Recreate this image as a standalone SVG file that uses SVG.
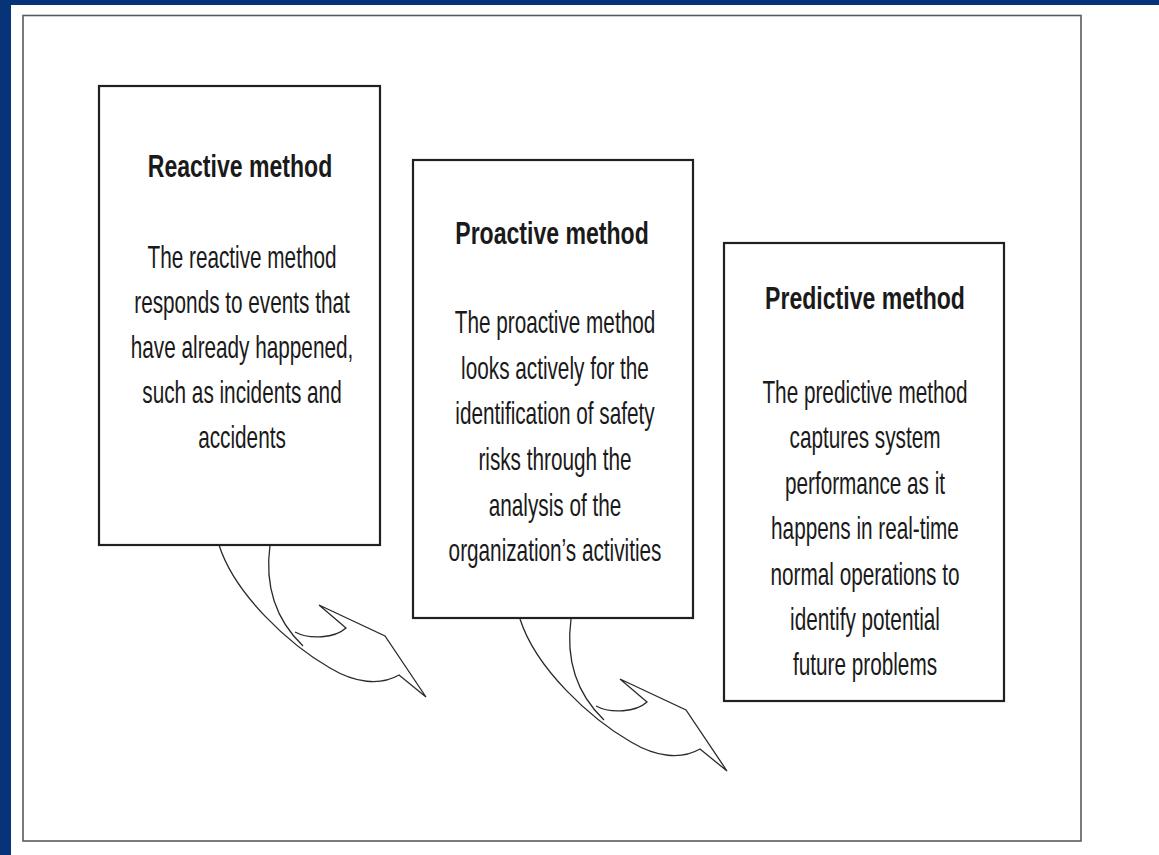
<svg xmlns="http://www.w3.org/2000/svg" width="1159" height="855" viewBox="0 0 1159 855">
<style>
.box{fill:#fff;stroke:#231f20;stroke-width:2.2}
.arrow{fill:none;stroke:#2a2a2a;stroke-width:1.3;stroke-linejoin:miter}
.h{font-family:"Liberation Sans",Arial,sans-serif;font-size:31px;font-weight:bold;fill:#1a1a1a;text-anchor:middle}
.b{font-family:"Liberation Sans",Arial,sans-serif;font-size:32px;fill:#1a1a1a;text-anchor:middle}
</style>
<defs>
<g id="curvedArrow">
<path class="arrow" d="M219,545 C235,595 290,645 330,668 C355,683 380,686 399,675 L426,697 L385,636 L319,605 L346,628 C335,638 310,640 295,632"/>
<path class="arrow" d="M270,545 C264,590 278,622 303,646"/>
</g>
</defs>
<rect x="0" y="0" width="1159" height="855" fill="#fff"/>
<rect x="0" y="0" width="1159" height="5" fill="#073379"/>
<rect x="0" y="0" width="11" height="855" fill="#073379"/>
<rect id="frame" x="23" y="15.5" width="1058" height="825.5" fill="none" stroke="#5a5a5a" stroke-width="1.6"/>

<g id="connectors">
<use href="#curvedArrow"/>
<use href="#curvedArrow" transform="translate(301,74)"/>
</g>

<g id="reactive">
<rect class="box" x="99" y="86" width="281" height="459"/>
<g transform="translate(240,0) scale(0.744,1)"><text class="h" x="0" y="177">Reactive method</text></g>
<g transform="translate(242,0) scale(0.648,1)">
<text class="b" x="0" y="268">The reactive method</text>
<text class="b" x="0" y="313">responds to events that</text>
<text class="b" x="0" y="358">have already happened,</text>
<text class="b" x="0" y="403">such as incidents and</text>
<text class="b" x="0" y="448">accidents</text>
</g>
</g>

<g id="proactive">
<rect class="box" x="413" y="160" width="280" height="458"/>
<g transform="translate(552,0) scale(0.744,1)"><text class="h" x="0" y="244">Proactive method</text></g>
<g transform="translate(555,0) scale(0.648,1)">
<text class="b" x="0" y="333">The proactive method</text>
<text class="b" x="0" y="379">looks actively for the</text>
<text class="b" x="0" y="424">identification of safety</text>
<text class="b" x="0" y="470">risks through the</text>
<text class="b" x="0" y="516">analysis of the</text>
<text class="b" x="0" y="561">organization’s activities</text>
</g>
</g>

<g id="predictive">
<rect class="box" x="724" y="243" width="280" height="458"/>
<g transform="translate(865,0) scale(0.744,1)"><text class="h" x="0" y="309">Predictive method</text></g>
<g transform="translate(865,0) scale(0.648,1)">
<text class="b" x="0" y="403">The predictive method</text>
<text class="b" x="0" y="448">captures system</text>
<text class="b" x="0" y="494">performance as it</text>
<text class="b" x="0" y="539">happens in real-time</text>
<text class="b" x="0" y="585">normal operations to</text>
<text class="b" x="0" y="630">identify potential</text>
<text class="b" x="0" y="675">future problems</text>
</g>
</g>
</svg>
